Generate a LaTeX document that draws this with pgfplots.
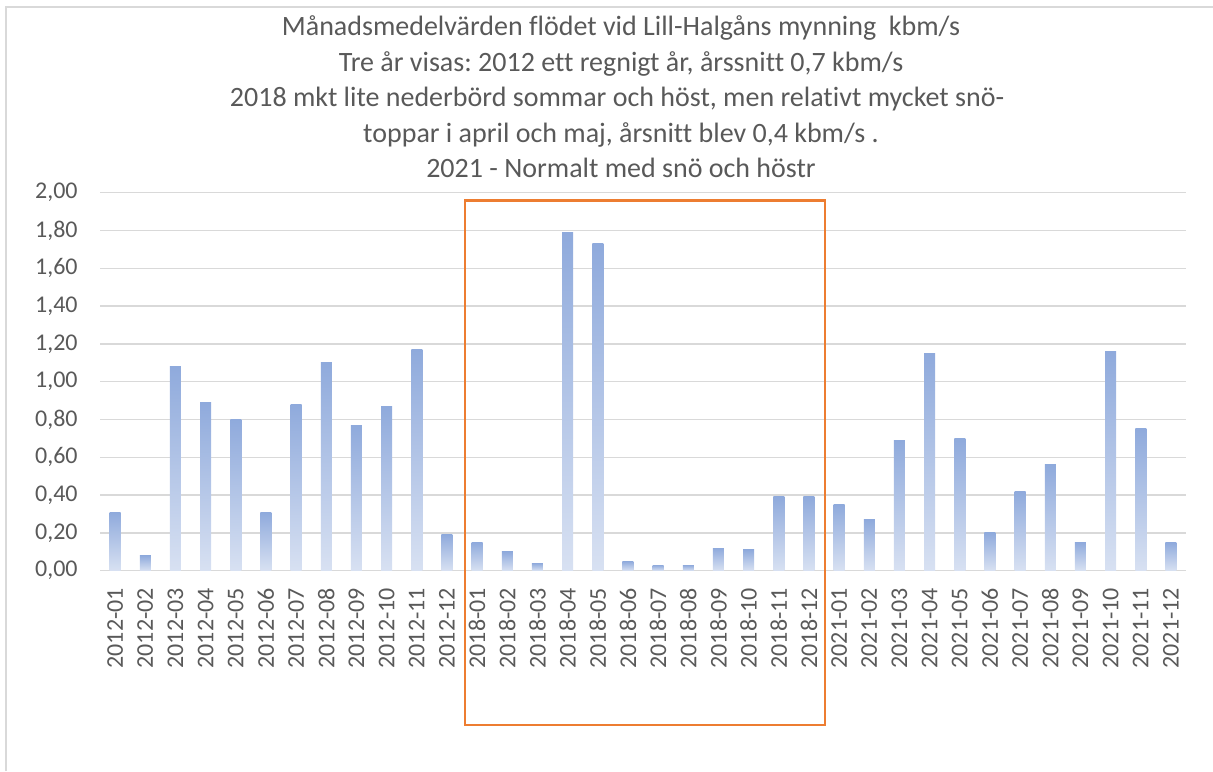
\documentclass[border=0pt]{standalone}
\usepackage{fontspec}
\setmainfont{Carlito}[Ligatures=NoCommon]
\usepackage{pgfplots}
\usepackage{pgfplotstable}
\pgfplotsset{compat=1.18}
\frenchspacing
\definecolor{txt}{HTML}{595959}
\definecolor{gridc}{HTML}{D9D9D9}
\definecolor{bartop}{HTML}{8FAADC}
\definecolor{barbot}{HTML}{D8E1F2}
\definecolor{org}{HTML}{ED7D31}
\pgfplotstableread{
x y
0 0.31
1 0.08
2 1.08
3 0.89
4 0.80
5 0.31
6 0.88
7 1.10
8 0.77
9 0.87
10 1.17
11 0.19
12 0.15
13 0.10
14 0.04
15 1.79
16 1.73
17 0.05
18 0.03
19 0.03
20 0.12
21 0.11
22 0.39
23 0.39
24 0.35
25 0.27
26 0.69
27 1.15
28 0.70
29 0.20
30 0.42
31 0.56
32 0.15
33 1.16
34 0.75
35 0.15
}\flowdata
\begin{document}
\begin{tikzpicture}
\path[use as bounding box] (0,0) rectangle (606.5pt,385.5pt);
\draw[gridc, line width=0.8pt] (3pt,0) -- (3pt,382pt) -- (606.5pt,382pt);
\begin{scope}[every node/.style={text=txt, font=\fontsize{14}{17}\selectfont, anchor=base, inner sep=0pt}]
\node at (310.5pt,367.5pt) {Månadsmedelvärden flödet vid Lill-Halgåns mynning\ \ kbm/s};
\node at (310.5pt,349.75pt) {Tre år visas: 2012 ett regnigt år, årssnitt 0,7 kbm/s};
\node at (308.5pt,332pt) {2018 mkt lite nederbörd sommar och höst, men relativt mycket snö-};
\node at (310.5pt,314.25pt) {toppar i april och maj, årsnitt blev 0,4 kbm/s .};
\node at (310.5pt,296.5pt) {2021 - Normalt med snö och höstr};
\end{scope}
\begin{axis}[
  at={(50pt,100.15pt)}, anchor=south west,
  scale only axis, width=543pt, height=189pt,
  xmin=-0.5, xmax=35.5, ymin=0, ymax=2,
  ytick={0,0.2,0.4,0.6,0.8,1.0,1.2,1.4,1.6,1.8,2.0},
  xtick={0,...,35},
  xticklabels={2012-01,2012-02,2012-03,2012-04,2012-05,2012-06,2012-07,2012-08,2012-09,2012-10,2012-11,2012-12,
    2018-01,2018-02,2018-03,2018-04,2018-05,2018-06,2018-07,2018-08,2018-09,2018-10,2018-11,2018-12,
    2021-01,2021-02,2021-03,2021-04,2021-05,2021-06,2021-07,2021-08,2021-09,2021-10,2021-11,2021-12},
  axis line style={draw=none},
  major tick length=0pt,
  ymajorgrids, grid style={gridc, line width=0.75pt},
  tick label style={text=txt, font=\fontsize{12}{14}\selectfont, inner sep=0pt},
  xticklabel style={rotate=90, anchor=east},
  yticklabel style={anchor=east},
  xticklabel shift=8.5pt, yticklabel shift=11pt,
  /pgf/number format/assume math mode=true,
  yticklabel style={/pgf/number format/.cd, fixed, fixed zerofill, precision=2, use comma},
  clip=false,
]
\pgfplotsinvokeforeach{0,...,35}{
  \addplot[ybar, bar shift=0pt, bar width=5.5pt, draw=none, top color=bartop, bottom color=barbot,
    restrict x to domain=#1:#1] table[x=x, y=y] {\flowdata};
}
\draw[org, line width=1.2pt] (axis cs:11.6,1.958) rectangle (axis cs:23.53,-0.816);
\end{axis}
\end{tikzpicture}
\end{document}
